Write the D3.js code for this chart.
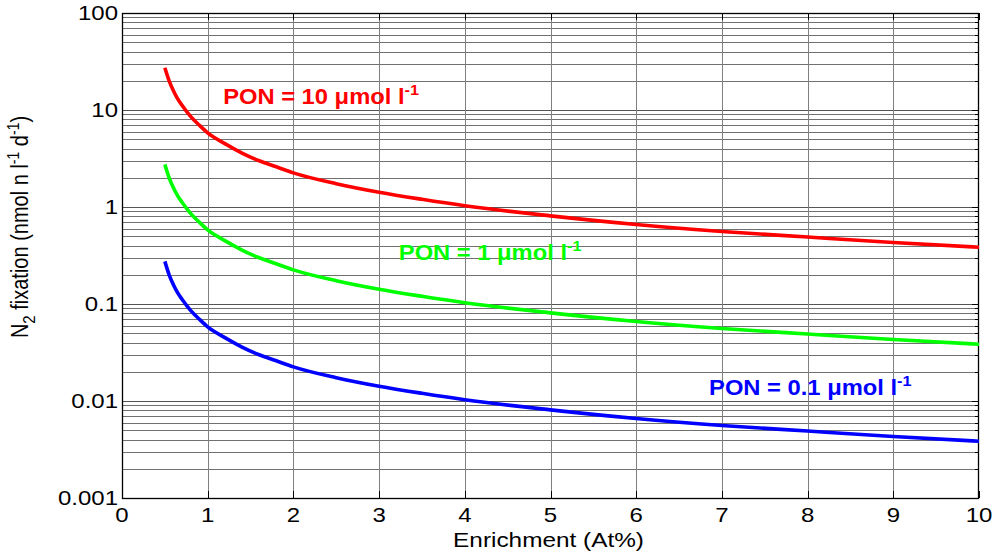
<!DOCTYPE html>
<html>
<head>
<meta charset="utf-8">
<script src="https://cdn.jsdelivr.net/npm/d3@7"></script>
<style>
  body { margin: 0; background: #fff; }
  text { font-family: Arial, "Liberation Sans", sans-serif; }
</style>
</head>
<body>
<div id="chart"></div>
<script>
// values
var enrichment = [0.5, 0.55, 0.6, 0.65, 0.7, 0.8, 0.9, 1, 1.2, 1.4, 1.6, 1.8, 2, 2.5, 3, 3.5, 4, 5, 6, 7, 8, 9, 10];
var pon10 = [27.3, 20, 15.8, 13, 11.2, 8.6, 7.0, 5.8, 4.5, 3.6, 3.0, 2.6, 2.25, 1.74, 1.42, 1.2, 1.03, 0.81, 0.66, 0.56, 0.49, 0.43, 0.385];
var pon1 = [2.75, 2.0, 1.58, 1.3, 1.12, 0.86, 0.70, 0.58, 0.45, 0.36, 0.30, 0.26, 0.225, 0.174, 0.142, 0.12, 0.103, 0.081, 0.066, 0.056, 0.049, 0.043, 0.0385];
var pon01 = [0.275, 0.2, 0.158, 0.13, 0.112, 0.086, 0.070, 0.058, 0.045, 0.036, 0.030, 0.026, 0.0225, 0.0174, 0.0142, 0.012, 0.0103, 0.0081, 0.0066, 0.0056, 0.0049, 0.0043, 0.00385];

var xTicks = [0, 1, 2, 3, 4, 5, 6, 7, 8, 9, 10];
var yTicks = [0.001, 0.01, 0.1, 1, 10, 100];
var yTickLabels = ["0.001", "0.01", "0.1", "1", "10", "100"];

var seriesNames = ["PON = 10", "PON = 1", "PON = 0.1"];
var seriesColors = ["#ff0000", "#00ff00", "#0000ff"];
var labelX = [1.18, 3.23, 6.85];
var labelY = [11.6, 0.282, 0.0115];

var margin = { top: 13, right: 18, bottom: 56, left: 122 },
  width = 997 - margin.left - margin.right,
  height = 554 - margin.top - margin.bottom;

var svg = d3
  .select("#chart")
  .append("svg")
  .attr("width", 997)
  .attr("height", 554);

var g = svg.append("g").attr("transform", "translate(" + margin.left + "," + margin.top + ")");

var x = d3.scaleLinear().domain([0, 10]).range([0, width]);
var y = d3.scaleLog().domain([0.001, 100]).range([height, 0]);

// horizontal grid, every 1..9 x 10^k
var minor = [];
yTicks.slice(0, -1).forEach(function(d) {
  for (var k = 1; k <= 9; k++) minor.push(d * k);
});
minor.push(100);

g.selectAll(".hgrid")
  .data(minor)
  .enter()
  .append("line")
  .attr("class", "hgrid")
  .attr("x1", 0)
  .attr("x2", width)
  .attr("y1", function(d) { return Math.round(y(d)) + 0.5; })
  .attr("y2", function(d) { return Math.round(y(d)) + 0.5; })
  .style("stroke", function(d) { return yTicks.indexOf(d) >= 0 ? "#555" : "#707070"; })
  .style("stroke-width", 1);

g.selectAll(".vgrid")
  .data(xTicks.slice(1, -1))
  .enter()
  .append("line")
  .attr("class", "vgrid")
  .attr("y1", 0)
  .attr("y2", height)
  .attr("x1", function(d) { return Math.round(x(d)) + 0.5; })
  .attr("x2", function(d) { return Math.round(x(d)) + 0.5; })
  .style("stroke", "#808080")
  .style("stroke-width", 1);

// small ticks on top and bottom edges
[0, height].forEach(function(edge) {
  g.selectAll(null)
    .data(xTicks)
    .enter()
    .append("line")
    .attr("x1", function(d) { return Math.round(x(d)) + 0.5; })
    .attr("x2", function(d) { return Math.round(x(d)) + 0.5; })
    .attr("y1", edge)
    .attr("y2", edge === 0 ? 7 : height - 7)
    .style("stroke", "#000")
    .style("stroke-width", 1);
});

// inward ticks on right edge
g.selectAll(".rtick")
  .data(minor)
  .enter()
  .append("line")
  .attr("class", "rtick")
  .attr("x1", width)
  .attr("x2", function(d) { return yTicks.indexOf(d) >= 0 ? width - 7 : width - 4; })
  .attr("y1", function(d) { return Math.round(y(d)) + 0.5; })
  .attr("y2", function(d) { return Math.round(y(d)) + 0.5; })
  .style("stroke", "#000");

// box
g.append("rect")
  .attr("x", 0.5)
  .attr("y", 0.5)
  .attr("width", width - 1)
  .attr("height", height)
  .style("fill", "none")
  .style("stroke", "#000")
  .style("stroke-width", 1.3);

// curves
var line = d3
  .line()
  .x(function(d) { return x(d[0]); })
  .y(function(d) { return y(d[1]); })
  .curve(d3.curveMonotoneX);

[pon10, pon1, pon01].forEach(function(vals, i) {
  g.append("path")
    .datum(enrichment.map(function(e, j) { return [e, vals[j]]; }))
    .attr("d", line)
    .style("fill", "none")
    .style("stroke", seriesColors[i])
    .style("stroke-width", 3.6)
    .style("stroke-linejoin", "round");
});

// tick labels (the picture is stretched horizontally)
g.selectAll(".xlab")
  .data(xTicks)
  .enter()
  .append("text")
  .attr("class", "xlab")
  .attr("transform", function(d) { return "translate(" + x(d) + "," + (height + 24) + ") scale(1.2,1)"; })
  .style("text-anchor", "middle")
  .attr("font-size", 20)
  .text(function(d) { return d; });

g.selectAll(".ylab")
  .data(yTicks)
  .enter()
  .append("text")
  .attr("class", "ylab")
  .attr("transform", function(d) { return "translate(-4," + (y(d) + 7) + ") scale(1.2,1)"; })
  .style("text-anchor", "end")
  .attr("font-size", 20)
  .text(function(d, i) { return yTickLabels[i]; });

// axis titles
svg.append("text")
  .attr("transform", "translate(" + (margin.left + width / 2 - 2) + ",547) scale(1.16,1)")
  .style("text-anchor", "middle")
  .attr("font-size", 21)
  .text("Enrichment (At%)");

var yt = svg.append("text")
  .attr("transform", "translate(28,227) rotate(-90) scale(1,1.15)")
  .style("text-anchor", "middle")
  .attr("font-size", 20);
yt.append("tspan").text("N");
yt.append("tspan").attr("dy", 6).attr("font-size", 15).text("2");
yt.append("tspan").attr("dy", -6).text(" fixation (nmol n l");
yt.append("tspan").attr("dy", -8).attr("font-size", 14).text("-1");
yt.append("tspan").attr("dy", 8).text(" d");
yt.append("tspan").attr("dy", -8).attr("font-size", 14).text("-1");
yt.append("tspan").attr("dy", 8).text(")");

// series labels
seriesNames.forEach(function(name, i) {
  var t = g.append("text")
    .attr("transform", "translate(" + x(labelX[i]) + "," + y(labelY[i]) + ") scale(1.08,1)")
    .attr("font-size", 22)
    .attr("font-weight", "bold")
    .style("fill", seriesColors[i]);
  t.append("tspan").text(name + " \u03bcmol l");
  t.append("tspan").attr("dy", -9).attr("font-size", 15).text("-1");
});
</script>
</body>
</html>
